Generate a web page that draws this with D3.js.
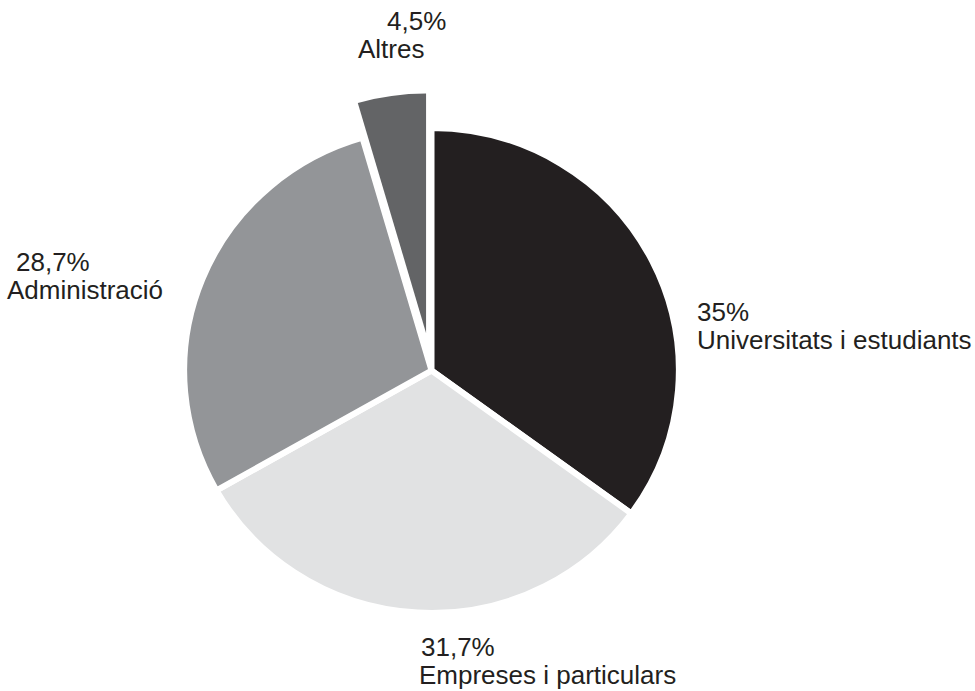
<!DOCTYPE html>
<html>
<head>
<meta charset="utf-8">
<script src="https://cdn.jsdelivr.net/npm/d3@7"></script>
<style>
	body { margin: 0; background: #fff; }
	text { font-family: 'Liberation Sans', Arial, Helvetica, sans-serif; fill: #231f20; }
</style>
</head>
<body>
<div id="chart"></div>
<script>
// data
var categories = ['Universitats i estudiants', 'Empreses i particulars', 'Administració', 'Altres'];
var values = [35, 31.7, 28.7, 4.5];
var valueLabels = ['35%', '31,7%', '28,7%', '4,5%'];
var colors = ['#231f20', '#e1e2e3', '#939598', '#636466'];
var exploded = [0, 0, 0, 38];

// label anchors (left x, baseline of first and second line)
var labelPos = [[697, 321], [421, 656], [16, 271], [387, 30]];
var labelPos2 = [[697, 349], [419, 684], [7, 299], [358, 58]];

var width = 975, height = 691;
var cx = 431.5, cy = 370.5, radius = 242.5;
var stretchX = 1.02; // the original pie is a touch wider than tall

var svg = d3.select('#chart')
	.append('svg')
	.attr('width', width)
	.attr('height', height);

var pie = d3.pie().sort(null).value(function(d) { return d; });
var arc = d3.arc().innerRadius(0).outerRadius(radius);
// exploded slice is drawn without the white outline, so trim it by the half-stroke
var arcLoose = d3.arc().innerRadius(0).outerRadius(radius - 3);

var arcs = pie(values);

var g = svg.append('g')
	.attr('transform', 'translate(' + cx + ',' + cy + ') scale(' + stretchX + ',1)');

g.selectAll('.slice')
	.data(arcs)
	.enter()
	.append('path')
	.attr('class', 'slice')
	.attr('d', function(d, i) { return exploded[i] ? arcLoose(d) : arc(d); })
	.attr('fill', function(d, i) { return colors[i]; })
	.attr('stroke', function(d, i) { return exploded[i] ? 'none' : '#fff'; })
	.attr('stroke-width', 6)
	.attr('vector-effect', 'non-scaling-stroke')
	.attr('stroke-linejoin', 'miter')
	.attr('transform', function(d, i) {
		var a = (d.startAngle + d.endAngle) / 2;
		var off = exploded[i];
		return 'translate(' + (Math.sin(a) * off) + ',' + (-Math.cos(a) * off) + ')';
	});

// labels
var labels = svg.selectAll('.label')
	.data(categories)
	.enter()
	.append('g')
	.attr('class', 'label');

labels.append('text')
	.attr('x', function(d, i) { return labelPos[i][0]; })
	.attr('y', function(d, i) { return labelPos[i][1]; })
	.style('font-size', '26px')
	.text(function(d, i) { return valueLabels[i]; });

labels.append('text')
	.attr('x', function(d, i) { return labelPos2[i][0]; })
	.attr('y', function(d, i) { return labelPos2[i][1]; })
	.style('font-size', '26px')
	.text(function(d) { return d; });
</script>
</body>
</html>
